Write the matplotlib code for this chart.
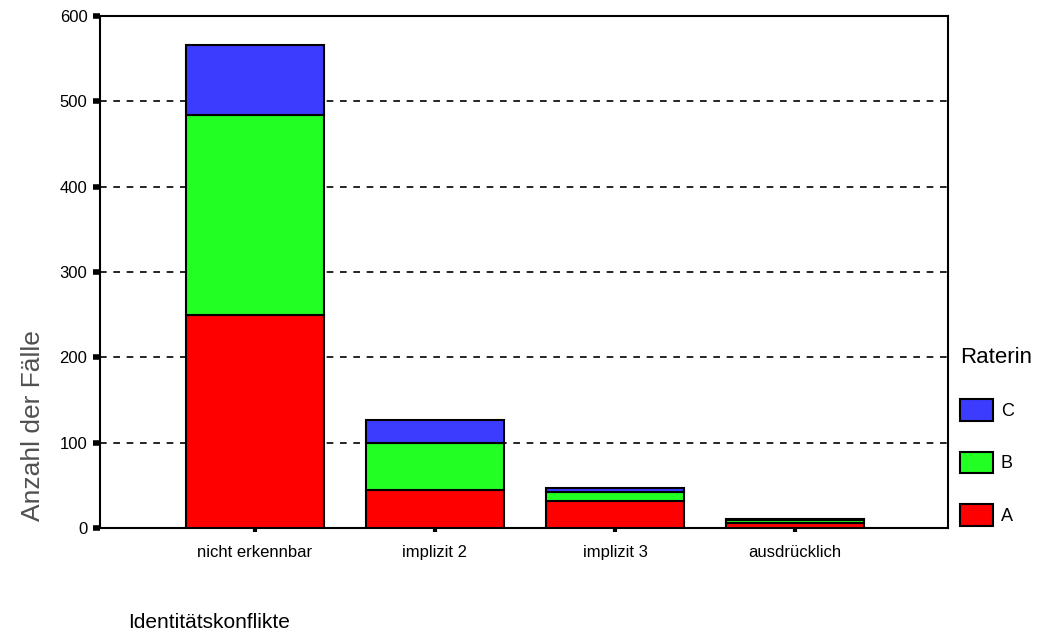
import numpy as np
import matplotlib.pyplot as plt
from matplotlib.patches import Patch

plt.rcParams['font.family'] = ['Liberation Sans', 'DejaVu Sans']

categories = ['nicht erkennbar', 'implizit 2', 'implizit 3', 'ausdrücklich']
rater_a = [250, 45, 32, 6]
rater_b = [234, 55, 10, 3]
rater_c = [82, 26, 5, 2]
y_ticks = [0, 100, 200, 300, 400, 500, 600]

colors = {'A': '#ff0000', 'B': '#22ff22', 'C': '#3c3cff'}

fig = plt.figure(figsize=(10.45, 6.35), dpi=100)
ax = fig.add_axes([100 / 1045, 1 - 528 / 635, 848 / 1045, 512 / 635])

x = np.arange(len(categories))
a = np.array(rater_a)
b = np.array(rater_b)
c = np.array(rater_c)
w = 0.767
ax.bar(x, a, w, color=colors['A'], edgecolor='black', linewidth=1.5, zorder=3)
ax.bar(x, b, w, bottom=a, color=colors['B'], edgecolor='black', linewidth=1.5, zorder=3)
ax.bar(x, c, w, bottom=a + b, color=colors['C'], edgecolor='black', linewidth=1.5, zorder=3)

ax.set_xlim(-0.861, 3.85)
ax.set_ylim(0, 600)
ax.set_yticks(y_ticks)
ax.set_xticks(x)
ax.set_xticklabels(categories, fontsize=12)
ax.tick_params(axis='y', direction='out', length=5, width=4, labelsize=12, pad=4)
ax.tick_params(axis='x', direction='out', length=3, width=3, labelsize=12, pad=9)
for s in ax.spines.values():
    s.set_linewidth(1.5)

for yv in y_ticks[1:-1]:
    ax.axhline(yv, color='black', linestyle=(0, (4, 4)), linewidth=1.2, zorder=1)

handles = [Patch(facecolor=colors[k], edgecolor='black', linewidth=1.5, label=k)
           for k in ['C', 'B', 'A']]
leg = ax.legend(handles=handles, title='Raterin', loc='upper left',
                bbox_to_anchor=(0.995, 0.385), frameon=False, fontsize=13,
                title_fontsize=16, handlelength=1.85, handleheight=1.45,
                labelspacing=1.72, handletextpad=0.4, borderaxespad=0.5)
leg._legend_box.align = 'left'

fig.text(33 / 1045, 1 - 426 / 635, 'Anzahl der Fälle', rotation=90, ha='center', va='center',
         fontsize=19, color='#505050')
fig.text(128 / 1045, 1 - 622 / 635, 'Identitätskonflikte', ha='left', va='center', fontsize=15)

fig.savefig('out.png', dpi=100)
